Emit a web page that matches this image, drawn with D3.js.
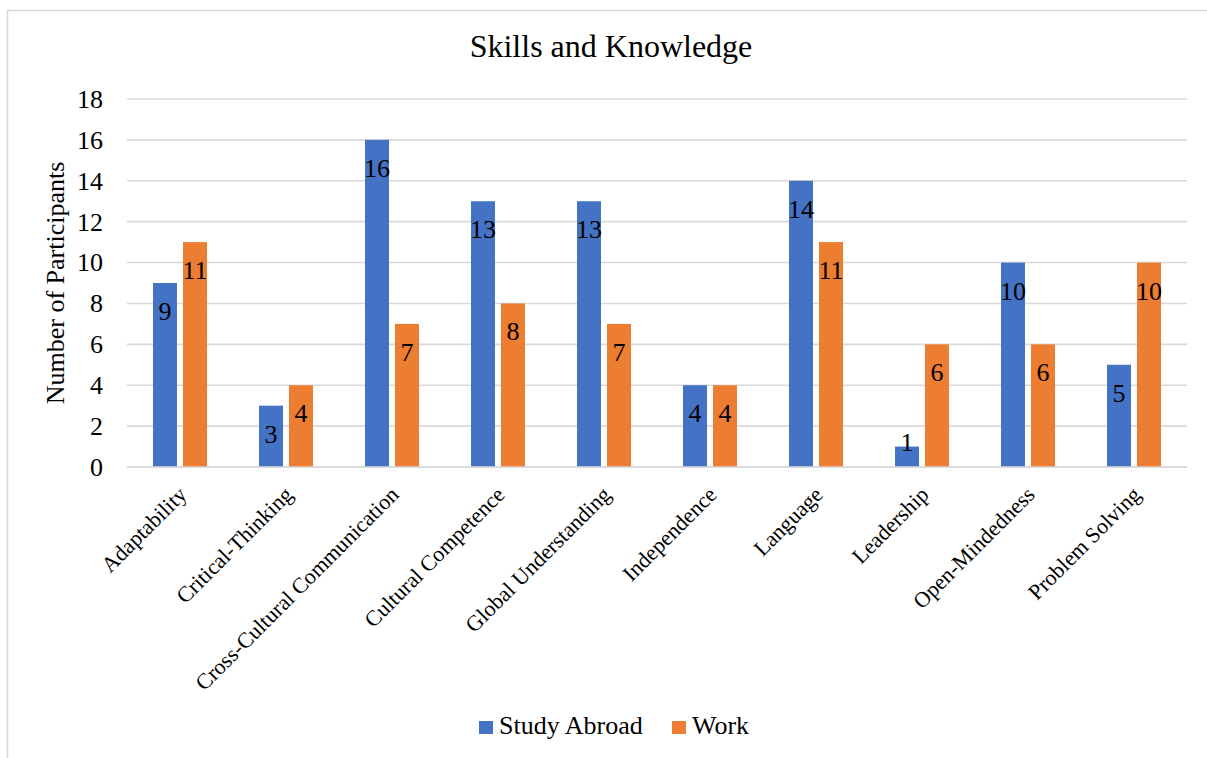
<!DOCTYPE html>
<html>
<head>
<meta charset="utf-8">
<script src="https://cdn.jsdelivr.net/npm/d3@7"></script>
<style>
  html, body { margin: 0; padding: 0; background: #ffffff; }
  svg { display: block; }
</style>
</head>
<body>
<svg id="chart" width="1207" height="758"></svg>
<script>
const categories = ["Adaptability", "Critical-Thinking", "Cross-Cultural Communication", "Cultural Competence",
  "Global Understanding", "Independence", "Language", "Leadership", "Open-Mindedness", "Problem Solving"];
const seriesNames = ["Study Abroad", "Work"];
const studyAbroad = [9, 3, 16, 13, 13, 4, 14, 1, 10, 5];
const work = [11, 4, 7, 8, 7, 4, 11, 6, 6, 10];
const yTicks = [0, 2, 4, 6, 8, 10, 12, 14, 16, 18];
const titleText = "Skills and Knowledge";
const yAxisTitle = "Number of Participants";

const colors = { "Study Abroad": "#4472C4", "Work": "#ED7D31" };
const grid = "#d9d9d9";
const FONT = "Liberation Serif";

const svg = d3.select("#chart");

// chart border
svg.append("rect")
  .attr("x", 7.5).attr("y", 10.5)
  .attr("width", 1215).attr("height", 770)
  .attr("fill", "none").attr("stroke", grid).attr("stroke-width", 1.5);

const plot = { left: 127, right: 1187, top: 99, bottom: 467 };

const x0 = d3.scaleBand().domain(categories).range([plot.left, plot.right]).padding(0);
const groupW = 54;
const x1 = d3.scaleBand().domain(seriesNames).range([0, groupW]).paddingInner(0.2).paddingOuter(0);
const y = d3.scaleLinear().domain([0, 18]).range([plot.bottom, plot.top]);

// gridlines
svg.append("g").selectAll("line").data(yTicks).join("line")
  .attr("x1", plot.left).attr("x2", plot.right)
  .attr("y1", d => y(d)).attr("y2", d => y(d))
  .attr("stroke", grid).attr("stroke-width", 1.6);

// y tick labels
svg.append("g").selectAll("text").data(yTicks).join("text")
  .attr("x", 103).attr("y", d => y(d)).attr("dy", "0.34em")
  .attr("text-anchor", "end").attr("font-size", 26).attr("font-family", FONT)
  .text(d => d);

// bars
const rows = categories.map((c, i) => ({ cat: c, vals: [
  { s: "Study Abroad", v: studyAbroad[i] }, { s: "Work", v: work[i] }] }));

const groups = svg.append("g").selectAll("g").data(rows).join("g")
  .attr("transform", d => `translate(${x0(d.cat) + (x0.bandwidth() - groupW) / 2},0)`);

groups.selectAll("rect").data(d => d.vals).join("rect")
  .attr("x", d => x1(d.s)).attr("width", x1.bandwidth())
  .attr("y", d => y(d.v)).attr("height", d => y(0) - y(d.v))
  .attr("fill", d => colors[d.s]);

groups.selectAll("text").data(d => d.vals).join("text")
  .attr("x", d => x1(d.s) + x1.bandwidth() / 2)
  .attr("y", d => Math.min(y(d.v) + 37, y(0) - 16))
  .attr("text-anchor", "middle").attr("font-size", 26).attr("font-family", FONT)
  .text(d => d.v);

// x axis line
svg.append("line").attr("x1", plot.left).attr("x2", plot.right)
  .attr("y1", y(0)).attr("y2", y(0)).attr("stroke", grid).attr("stroke-width", 1.6);

// x labels
svg.append("g").selectAll("text").data(categories).join("text")
  .attr("transform", d => `translate(${x0(d) + x0.bandwidth() / 2 + 8},${plot.bottom + 29}) rotate(-45)`)
  .attr("text-anchor", "end").attr("font-size", 22).attr("font-family", FONT)
  .text(d => d);

// title
svg.append("text").attr("x", 611).attr("y", 57).attr("text-anchor", "middle")
  .attr("font-size", 32).attr("font-family", FONT).text(titleText);

// y axis title
svg.append("text").attr("transform", `translate(64,${(plot.top + plot.bottom) / 2}) rotate(-90)`)
  .attr("text-anchor", "middle").attr("font-size", 26).attr("font-family", FONT).text(yAxisTitle);

// legend
const legend = svg.append("g");
const legendItems = [{ s: "Study Abroad", x: 479 }, { s: "Work", x: 672 }];
legend.selectAll("rect").data(legendItems).join("rect")
  .attr("x", d => d.x).attr("y", 721).attr("width", 14).attr("height", 13)
  .attr("fill", d => colors[d.s]);
legend.selectAll("text").data(legendItems).join("text")
  .attr("x", d => d.x + 20).attr("y", 734).attr("font-size", 26).attr("font-family", FONT)
  .text(d => d.s);
</script>
</body>
</html>
